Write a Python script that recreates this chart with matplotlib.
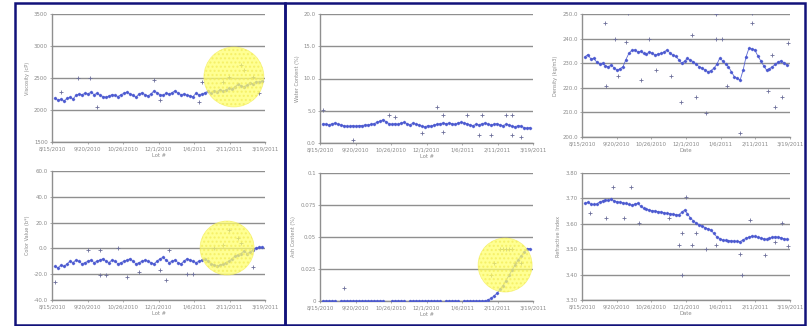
import numpy as np
import matplotlib
matplotlib.use("Agg")
import matplotlib.pyplot as plt
from matplotlib.patches import Rectangle, Ellipse

# ---------------- data ----------------
x_tick_labels = ["8/15/2010", "9/20/2010", "10/26/2010", "12/1/2010",
                 "1/6/2011", "2/11/2011", "3/19/2011"]

# chart 1 (top-left)
c1_values = [2190, 2150, 2170, 2140, 2180, 2200, 2170, 2230, 2250, 2240,
             2260, 2250, 2280, 2240, 2260, 2230, 2210, 2200, 2220, 2240,
             2230, 2210, 2240, 2260, 2280, 2250, 2230, 2200, 2250, 2270,
             2240, 2220, 2250, 2300, 2270, 2240, 2230, 2260, 2250, 2270,
             2300, 2260, 2240, 2250, 2230, 2220, 2210, 2260, 2240, 2250,
             2270, 2290, 2260, 2300, 2280, 2320, 2290, 2310, 2340, 2330,
             2360, 2400, 2380, 2360, 2390, 2420, 2410, 2440, 2430, 2450]
c1_out_idx = [2, 7.5, 11.5, 14, 33, 35, 48, 49, 56, 58, 62, 63, 66, 68]
c1_out_val = [2280, 2500, 2500, 2050, 2470, 2160, 2125, 2440, 2440, 2515, 2700, 2625, 2515, 2265]

# chart 2 (bottom-left)
c2_values = [-14, -15, -13, -14, -12, -10, -11, -9, -10, -12,
             -11, -10, -9, -11, -10, -9, -8, -10, -11, -9,
             -10, -12, -11, -10, -9, -8, -10, -12, -11, -10,
             -9, -10, -11, -12, -10, -8, -7, -9, -11, -10,
             -9, -11, -12, -10, -8, -9, -10, -11, -10, -9,
             -8, -10, -12, -13, -14, -13, -12, -11, -10, -8,
             -6, -5, -4, -2, -4, -3, -1, 0, 1, 1]
c2_out_idx = [0, 11, 15, 21, 38, 15, 17, 24, 28, 35, 37, 44, 46, 53, 56, 58, 61, 62, 66]
c2_out_val = [-26, -1, -1, 0.5, -1, -20.5, -20.5, -22, -18, -17, -24.5, -20, -20, 0, 2.5, 14, 8, 4, -14.5]

# chart 3 (top-middle)
c3_values = [3.0, 2.9, 2.8, 3.0, 3.1, 2.9, 2.8, 2.7, 2.6, 2.6,
             2.7, 2.6, 2.7, 2.7, 2.8, 2.8, 2.9, 3.0, 3.2, 3.4,
             3.6, 3.3, 3.0, 2.9, 3.0, 2.9, 3.1, 3.2, 3.0, 2.8,
             3.1, 2.9, 2.8, 2.6, 2.5, 2.7, 2.6, 2.8, 2.9, 3.0,
             3.1, 3.0, 3.1, 3.0, 2.9, 3.1, 3.2, 3.1, 3.0, 2.8,
             2.7, 2.9, 2.8, 3.0, 3.1, 2.9, 2.8, 2.9, 3.0, 2.8,
             2.7, 2.9, 2.8, 2.6, 2.5, 2.7, 2.6, 2.4, 2.3, 2.4]
c3_out_idx = [0, 38, 40, 48, 53, 61, 63, 22, 24, 33, 40, 52, 56, 63, 66, 10]
c3_out_val = [5.1, 5.6, 4.3, 4.3, 4.3, 4.3, 4.3, 4.3, 4.1, 1.5, 1.7, 1.2, 1.2, 1.2, 0.9, 0.5]

# chart 4 (bottom-middle)
c4_values = [0, 0, 0, 0, 0, None, 0, 0, 0, 0,
             0, 0, 0, 0, 0, 0, 0, 0, 0, 0,
             0, None, None, 0, 0, 0, 0, 0, None, 0,
             0, 0, 0, 0, 0, 0, 0, 0, 0, 0,
             None, 0, 0, 0, 0, 0, None, 0, 0, 0,
             0, 0, 0, 0, 0, 0.001, 0.002, 0.004, 0.006, 0.009,
             0.012, 0.016, 0.020, 0.024, 0.028, 0.032, 0.035, 0.038, 0.041, 0.041]
c4_out_idx = [7, 57, 56, 59, 62, 64, 66, 60, 61, 63]
c4_out_val = [0.01, 0.03, 0.02, 0.041, 0.041, 0.03, 0.03, 0.041, 0.041, 0.041]

# chart 5 (top-right)
c5_values = [232.6, 233.5, 231.8, 232.0, 230.5, 229.8, 230.0, 229.0, 228.5, 229.3,
             228.0, 227.2, 227.8, 228.6, 231.5, 234.0, 235.2, 235.4, 234.6, 234.8,
             234.0, 233.6, 234.7, 234.0, 233.3, 233.8, 234.0, 234.5, 235.4, 234.2,
             233.3, 232.8, 231.5, 230.0, 230.8, 232.0, 231.2, 230.6, 229.5, 228.6,
             228.0, 227.2, 226.5, 227.0, 227.9, 229.5, 232.0, 231.0, 229.8, 228.6,
             226.5, 224.5, 223.8, 223.2, 227.2, 232.6, 236.1, 235.8, 235.4, 233.0,
             231.0, 229.0, 227.2, 227.8, 228.6, 229.5, 230.6, 231.0, 230.0, 229.3]
c5_out_idx = [6.8, 10.2, 14.7, 14.1, 7.3, 11.3, 19.2, 22, 24.3, 29.3, 32.7, 36.7,
              37.8, 41.2, 44.6, 44.6, 46.8, 48.5, 53, 57, 57, 62.6, 64.9, 67.2, 69.4, 63.8]
c5_out_val = [246.2, 239.7, 250.3, 238.7, 220.7, 224.8, 223.2, 239.7, 227.2, 224.8, 214.4,
              241.5, 216.4, 209.9, 250.0, 239.7, 239.7, 220.7, 201.8, 246.2, 250.3, 218.8,
              212.3, 216.4, 238.1, 233.3]

# chart 6 (bottom-right)
c6_values = [3.681, 3.684, 3.678, 3.676, 3.678, 3.686, 3.690, 3.694, 3.692, 3.696,
             3.690, 3.687, 3.685, 3.683, 3.680, 3.676, 3.674, 3.678, 3.681, 3.670,
             3.661, 3.658, 3.654, 3.652, 3.650, 3.648, 3.646, 3.644, 3.641, 3.640,
             3.638, 3.636, 3.635, 3.645, 3.654, 3.640, 3.622, 3.612, 3.602, 3.597,
             3.591, 3.585, 3.580, 3.576, 3.562, 3.549, 3.542, 3.536, 3.535, 3.534,
             3.533, 3.532, 3.531, 3.530, 3.537, 3.543, 3.548, 3.552, 3.550, 3.547,
             3.544, 3.541, 3.539, 3.543, 3.547, 3.549, 3.547, 3.545, 3.541, 3.539]
c6_out_idx = [9.6, 15.8, 1.7, 7.3, 13.5, 18.6, 28.8, 34.4, 33.3, 32.2, 36.7, 37.8,
              41.2, 44.6, 33.3, 53.6, 53, 56.4, 61.5, 67.2, 64.9, 69.4]
c6_out_val = [3.746, 3.746, 3.644, 3.622, 3.622, 3.602, 3.622, 3.704, 3.563, 3.517,
              3.517, 3.563, 3.500, 3.517, 3.398, 3.398, 3.481, 3.615, 3.478, 3.604,
              3.530, 3.514]

y_labels = ["Viscosity (cP)", "Color Value (b*)", "Water Content (%)",
            "Ash Content (%)", "Density (kg/m3)", "Refractive Index"]
x_labels = ["Lot #", "Lot #", "Lot #", "Lot #", "Date", "Date"]

# ---------------- layout ----------------
W, H = 810, 326
fig = plt.figure(figsize=(W / 100, H / 100), dpi=100)
fig.patch.set_facecolor("white")

def ax_at(l, r, t, b):
    return fig.add_axes([l / W, 1 - b / H, (r - l) / W, (b - t) / H])

BLUE = "#4a58d0"
OUT = "#6c6f9a"
GRID = "#8f8f8f"
TXT = "#8a8a8a"

def style(ax, ylim, yticks, ylabels, ylab, xlab, n):
    ax.set_ylim(*ylim)
    ax.set_yticks(yticks)
    ax.set_yticklabels(ylabels)
    ax.set_xlim(-1, n)
    ax.set_xticks(np.linspace(-1, n, len(x_tick_labels)))
    ax.set_xticklabels(x_tick_labels)
    ax.grid(axis="y", color=GRID, lw=1.0)
    ax.set_axisbelow(True)
    for s in ["top", "right"]:
        ax.spines[s].set_visible(False)
    for s in ["left", "bottom"]:
        ax.spines[s].set_color(GRID)
        ax.spines[s].set_linewidth(1.0)
    ax.tick_params(axis="both", labelsize=3.9, colors=TXT, length=1.5, width=0.5, pad=1.5)
    ax.set_ylabel(ylab, fontsize=3.6, color=TXT, labelpad=3)
    ax.set_xlabel(xlab, fontsize=3.8, color=TXT, labelpad=1.5)

def draw(ax, vals, oidx, oval):
    v = np.array([np.nan if a is None else a for a in vals], dtype=float)
    x = np.arange(len(v))
    ax.plot(x, v, color=BLUE, lw=0.6, marker="D", ms=1.2, mec=BLUE, mfc=BLUE,
            alpha=0.9, zorder=3)
    ax.scatter(oidx, oval, marker="+", s=7, color=OUT, lw=0.6, zorder=3)

def highlight(ax, cx, cy, rpx, axw, axh):
    e = Ellipse((cx, cy), 2 * rpx / axw, 2 * rpx / axh, transform=ax.transAxes,
                facecolor="#ffff6a", edgecolor="#f3ec5a", lw=0.5, alpha=0.72,
                hatch="....", zorder=5)
    ax.add_patch(e)

# chart 1
a1 = ax_at(52, 265, 14, 142)
draw(a1, c1_values, c1_out_idx, c1_out_val)
style(a1, (1500, 3500), [1500, 2000, 2500, 3000, 3500],
      ["1500", "2000", "2500", "3000", "3500"], y_labels[0], x_labels[0], len(c1_values))
highlight(a1, 0.854, 0.508, 30, 213, 128)

# chart 2
a2 = ax_at(52, 265, 171, 300)
draw(a2, c2_values, c2_out_idx, c2_out_val)
style(a2, (-40, 60), [-40, -20, 0, 20, 40, 60],
      ["-40.0", "-20.0", "0.0", "20.0", "40.0", "60.0"], y_labels[1], x_labels[1], len(c2_values))
highlight(a2, 0.822, 0.403, 27, 213, 129)

# chart 3
a3 = ax_at(320, 533, 14, 143)
draw(a3, c3_values, c3_out_idx, c3_out_val)
style(a3, (0, 20), [0, 5, 10, 15, 20],
      ["0.0", "5.0", "10.0", "15.0", "20.0"], y_labels[2], x_labels[2], len(c3_values))

# chart 4
a4 = ax_at(320, 533, 173, 301)
draw(a4, c4_values, c4_out_idx, c4_out_val)
style(a4, (0, 0.1), [0, 0.025, 0.05, 0.075, 0.1],
      ["0", "0.025", "0.05", "0.075", "0.1"], y_labels[3], x_labels[3], len(c4_values))
highlight(a4, 0.869, 0.281, 27, 213, 128)

# chart 5
a5 = ax_at(582, 790, 14, 137)
draw(a5, c5_values, c5_out_idx, c5_out_val)
style(a5, (200, 250), [200, 210, 220, 230, 240, 250],
      ["200.0", "210.0", "220.0", "230.0", "240.0", "250.0"], y_labels[4], x_labels[4], len(c5_values))

# chart 6
a6 = ax_at(582, 790, 173, 300)
draw(a6, c6_values, c6_out_idx, c6_out_val)
style(a6, (3.3, 3.8), [3.3, 3.4, 3.5, 3.6, 3.7, 3.8],
      ["3.30", "3.40", "3.50", "3.60", "3.70", "3.80"], y_labels[5], x_labels[5], len(c6_values))

# frames
NAVY = "#12127a"
for (l, r) in [(15, 285), (285, 805)]:
    fig.add_artist(Rectangle((l / W, 1 - 325 / H), (r - l) / W, 322 / H,
                             transform=fig.transFigure, fill=False,
                             edgecolor=NAVY, lw=1.8, zorder=10))

fig.savefig("out.png", dpi=100)
